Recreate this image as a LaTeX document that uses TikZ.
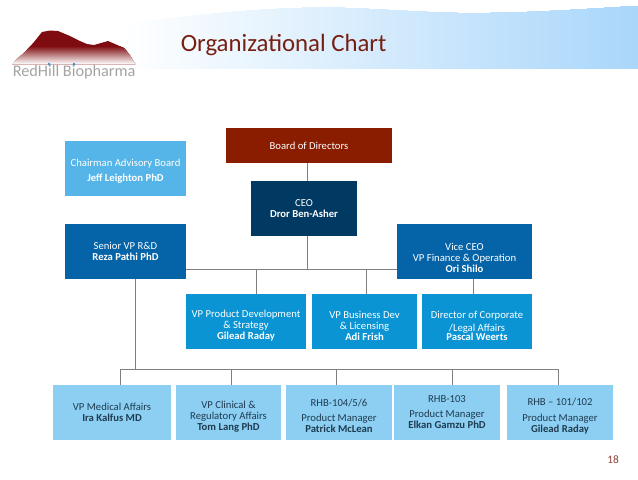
\documentclass[tikz,border=0pt]{standalone}
\usepackage{fontspec}
\setmainfont{Carlito}
\usetikzlibrary{calc}
\definecolor{boardc}{HTML}{8A1C00}
\definecolor{ceoc}{HTML}{003A63}
\definecolor{chairc}{HTML}{55B5E8}
\definecolor{srvpc}{HTML}{0563A8}
\definecolor{midc}{HTML}{0A94D3}
\definecolor{lowc}{HTML}{8CCFF3}
\definecolor{linec}{HTML}{7F7F7F}
\definecolor{titlec}{HTML}{762012}
\definecolor{lowtext}{HTML}{1F3B4F}
\definecolor{bannerc}{HTML}{A9D6FA}
\definecolor{peakc}{HTML}{7E0C10}
\definecolor{dotc}{HTML}{3F93CF}
\tikzset{
  box/.style={inner sep=0pt, align=center, text=white, font=\fontsize{8}{8.3}\selectfont},
  lowbox/.style={box, fill=lowc, text=lowtext},
  sz/.style 2 args={minimum width=#1*0.75pt, minimum height=#2*0.75pt},
  link/.style={draw=linec, line width=0.75pt}
}
\newcommand{\nm}[1]{\textbf{#1}}
\newcommand{\dn}[1]{\rule{0pt}{#1pt}}
\begin{document}
\begin{tikzpicture}[x=0.75pt,y=-0.75pt]
\useasboundingbox (0,0) rectangle (638,479);
% banner
\begin{scope}
\clip (120,25) .. controls (200,14) and (280,6) .. (345,8)
  .. controls (400,10) and (440,14) .. (490,13)
  .. controls (550,12) and (600,8) .. (638,6) -- (638,68.5) -- (120,68.5) -- cycle;
\foreach \sx in {120,124,...,636}{
  \pgfmathsetmacro{\pc}{(\sx-120)/5.18}
  \fill[bannerc!\pc!white] (\sx,0) rectangle (638,70);
}
\end{scope}
% logo
\begin{scope}
\clip (12,64) -- (25,52) -- (34,42) -- (42,32) -- (50,30.5) -- (58,31) -- (70,36)
  -- (80,41) -- (87,44) -- (94,45) -- (101,43) -- (108,41) -- (115,44) -- (124,48) -- (129,54) -- (135,64) -- cycle;
\fill[peakc] (0,28) rectangle (140,66);
\foreach \sy in {46,47,...,64}{
  \pgfmathsetmacro{\pc}{max(0,100-100*(\sy-46)/18)}
  \fill[peakc!\pc!white] (0,\sy) rectangle (140,66);
}
\end{scope}
\node[anchor=west, inner sep=0pt, text=black!36, font=\fontsize{12.2}{14}\selectfont] (logotext) at (12.5,72) {RedHill Biopharma};
\fill[dotc] (49,64) circle (1.5) (74,64) circle (1.5);
% title
\node[anchor=west, inner sep=0pt, text=titlec, font=\fontsize{18.6}{20}\selectfont] (title) at (180.5,45) {Organizational Chart};
\node[anchor=east, inner sep=0pt, text=titlec!85!white, font=\fontsize{8.5}{10}\selectfont] (page) at (619,460) {18};
% boxes
\node[box, sz={166}{35}, fill=boardc] (board) at (309,145.5) {Board of Directors};
\node[box, sz={106}{55}, fill=ceoc] (ceo) at (304,208.5) {CEO\\\nm{Dror Ben-Asher}};
\node[box, sz={121}{55}, fill=chairc] (chair) at (125.5,168.5) {\dn{10}Chairman Advisory Board\\[3pt]\nm{Jeff Leighton PhD}};
\node[box, sz={121}{55}, fill=srvpc] (srvp) at (125.5,251.5) {Senior VP R\&D\\\nm{Reza Pathi PhD}};
\node[box, sz={135}{55}, fill=srvpc] (vice) at (464.5,251.5) {\dn{14.5}Vice CEO\\VP Finance \& Operation\\\nm{Ori Shilo}};
\node[box, sz={120}{55}, fill=midc] (prod) at (246,321.5) {\dn{12}VP Product Development\\\& Strategy\\\nm{Gilead Raday}};
\node[box, sz={105}{55}, fill=midc] (bus) at (364.5,321.5) {\dn{12}VP Business Dev\\\& Licensing\\\nm{Adi Frish}};
\node[box, sz={110}{55}, fill=midc] (dir) at (477,321.5) {\dn{12}Director of Corporate\\[1.5pt]/Legal Affairs\\[-1pt]\nm{Pascal Weerts}};
\node[lowbox, sz={118}{55}] (med) at (112,412.5) {VP Medical Affairs\\\nm{Ira Kalfus MD}};
\node[lowbox, sz={105}{55}] (clin) at (228.5,412.5) {\dn{12}VP Clinical \&\\Regulatory Affairs\\\nm{Tom Lang PhD}};
\node[lowbox, sz={106}{55}] (r104) at (339,412.5) {\dn{11}RHB-104/5/6\\[3pt]Product Manager\\\nm{Patrick McLean}};
\node[lowbox, sz={106}{55}] (r103) at (447,412.5) {RHB-103\\[3pt]Product Manager\\\nm{Elkan Gamzu PhD}};
\node[lowbox, sz={106}{55}] (r101) at (560,412.5) {\dn{11}RHB – 101/102\\[3pt]Product Manager\\\nm{Gilead Raday}};
% junctions
\coordinate (ceox) at (307,0);
\coordinate (upper) at (0,269);
\coordinate (lower) at (0,369.5);
\coordinate (srx) at (135,0);
\coordinate (prodx) at (256,0);
\coordinate (busx) at (366,0);
\coordinate (dirx) at (473,0);
\coordinate (medx) at (120,0);
\coordinate (clinx) at (231,0);
\coordinate (r104x) at (336,0);
\coordinate (r103x) at (452,0);
\coordinate (r101x) at (558,0);
% connectors
\draw[link] (board.south -| ceox) -- (ceo.north -| ceox);
\draw[link] (ceo.south -| ceox) -- (upper -| ceox);
\draw[link] (srvp.east |- upper) -- (vice.west |- upper);
\draw[link] (upper -| prodx) -- (prod.north -| prodx);
\draw[link] (upper -| busx) -- (bus.north -| busx);
\draw[link] (vice.south -| dirx) -- (dir.north -| dirx);
\draw[link] (srvp.south -| srx) -- (lower -| srx);
\draw[link] (med.north -| medx) -- (lower -| medx) -- (lower -| r101x) -- (r101.north -| r101x);
\draw[link] (lower -| clinx) -- (clin.north -| clinx);
\draw[link] (lower -| r104x) -- (r104.north -| r104x);
\draw[link] (lower -| r103x) -- (r103.north -| r103x);
\end{tikzpicture}
\end{document}
